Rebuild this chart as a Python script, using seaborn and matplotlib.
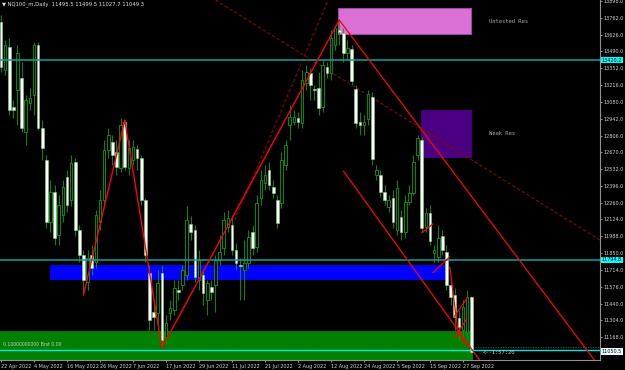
import numpy as np
import pandas as pd
import matplotlib
matplotlib.use("Agg")
import matplotlib.pyplot as plt
from matplotlib.patches import Rectangle
import seaborn as sns

# ---------------- data ----------------
opens = [13729,13339,13526,13038,13176,13274,12835,13071,13136,13542,12867,12607,12103,12347,11998,12160,12469,12282,12591,12038,
         11835,11615,11835,11778,12103,12282,12688,12754,12672,12542,12916,12542,12607,12697,12624,12282,11689,11371,11363,11689,
         11168,11363,11388,11550,11591,11672,12087,12038,11632,11672,11469,11575,11591,11794,11892,12062,12079,11876,11754,11713,
         11770,12022,11900,12298,12420,12526,12388,12282,12258,12567,12892,12916,12949,12908,13233,13315,13184,13193,13038,13363,
         13315,13542,13664,13640,13477,13510,13184,12916,12892,12941,13119,12485,12485,12347,12225,12298,12038,12144,12022,12266,
         12339,12648,12770,12062,12176,11851,11819,11989,11859,11591,11510,11323,11225,11209,11495.5]
highs = [13786,13583,13599,13095,13542,13404,13136,13193,13567,13567,12932,12648,12445,12404,12323,12445,12526,12648,12624,12079,
         11876,11876,11916,12201,12363,12770,12867,12810,12770,12949,12932,12770,12770,12729,12648,12298,11754,11469,11713,11754,
         11347,11469,11632,11632,11754,12233,12152,12079,11876,11713,11632,11632,11835,11998,12184,12201,12160,11932,11810,11957,
         12038,12079,12323,12526,12567,12591,12445,12323,12672,12770,13054,13014,12997,13339,13380,13355,13217,13323,13420,13404,
         13664,13705,13745,13680,13583,13542,13217,12997,12973,13176,13160,12567,12526,12404,12323,12363,12445,12201,12323,12404,
         12648,12810,12794,12217,12241,11916,12079,12038,11916,11632,11567,11388,11469,11550,11499.5]
lows = [13323,13298,12973,12949,12892,12835,12729,13014,12973,12851,12607,12054,12022,11916,11916,12103,12184,12233,11989,11778,
        11510,11550,11672,11729,12038,12241,12624,12567,12485,12510,12526,12485,12567,12526,12241,11778,11225,11225,11266,11079,
        11103,11306,11347,11469,11550,11632,11957,11615,11550,11428,11347,11469,11371,11754,11835,12022,11835,11713,11469,11469,
        11729,11835,11859,12241,12363,12363,12298,12054,12217,12526,12770,12892,12867,12867,13176,13095,13095,12973,12997,13274,
        13258,13502,13542,13404,13420,13217,12867,12810,12810,12892,12567,12445,12306,12241,12184,12054,11998,11957,11973,12241,
        12323,12607,12022,12022,11916,11778,11778,11835,11550,11428,11225,11144,11160,11144,11027.7]
closes = [13363,13542,13014,13014,13477,12867,13095,13111,13542,12867,12705,12103,12347,11973,12241,12388,12241,12583,12038,11835,
          11632,11810,11729,12160,12282,12688,12810,12648,12550,12892,12550,12705,12713,12624,12282,11835,11306,11331,11607,11144,
          11282,11404,11567,11534,11713,12119,12022,11656,11794,11526,11607,11534,11794,11859,12119,12136,11876,11770,11746,11770,
          11981,11892,12258,12445,12485,12404,12339,12095,12607,12729,12957,12957,12916,13258,13323,13217,13176,13030,13380,13315,
          13599,13680,13648,13477,13518,13249,12908,12892,12916,13144,12615,12526,12347,12282,12282,12103,12380,12022,12266,12339,
          12591,12786,12054,12176,11949,11876,11973,11876,11591,11493,11331,11250,11412,11493,11049.3]

date_labels = ["22 Apr 2022","4 May 2022","16 May 2022","26 May 2022","7 Jun 2022","17 Jun 2022","29 Jun 2022",
               "11 Jul 2022","21 Jul 2022","2 Aug 2022","12 Aug 2022","24 Aug 2022","5 Sep 2022","15 Sep 2022","27 Sep 2022"]
date_label_bars = [0, 8, 16, 24, 32, 40, 48, 56, 64, 72, 80, 88, 96, 104, 112]

price_ticks = [13898.0,13762.0,13626.0,13490.0,13352.0,13216.0,13080.0,12942.0,12806.0,12670.0,12532.0,12396.0,
               12260.0,12124.0,11988.0,11850.0,11714.0,11576.0,11440.0,11304.0,11168.0]

# zigzag pivots (bar, price)
zz_bars = [20, 30, 39, 82]
zz_prices = [11510, 12932, 11079, 13745]

# channel / trend lines (bar1, price1, bar2, price2)
red_lines = [(82, 13745, 146, 10884),
             (83, 12518, 116, 10981),
             (102, 12014, 104.7, 12087),
             (104.7, 11691, 108.8, 11821),
             (108.8, 11737, 110.8, 11209),
             (109.8, 11331, 113, 11485),
             (110, 11160, 113, 11323),
             (110.8, 11209, 112.7, 11103)]
dash_lines = [(52, 13908, 146, 11940),
              (56.7, 12119, 79.3, 13908)]

# zones (bar start, bar end, top price, bottom price, colour, label)
zones = [(81.8, 113.9, 13840, 13629, "#da70d6", "Untested Res"),
         (101.8, 113.9, 13014, 12632, "#4b0082", "Weak Res"),
         (11.9, 108.1, 11754, 11640, "#0000ff", ""),
         (-5, 114.1, 11217, 10900, "#008000", "")]

levels = [13420.2, 11794.8]
bid = 11050.5
zone_note = "0.10000000000 Brst 0.00"

# ---------------- drawing ----------------
sns.set_theme(style="dark", rc={"axes.facecolor": "black", "figure.facecolor": "black",
                                "axes.edgecolor": "#808080", "axes.grid": False})
plt.rcParams["font.family"] = ["DejaVu Sans"]

fig = plt.figure(figsize=(6.25, 3.7), dpi=100)
ax = fig.add_axes([0, 10/370, 600/625, 360/370])
ax.set_facecolor("black")

n = len(opens)
idx = np.arange(n)
o = np.array(opens); h = np.array(highs); l = np.array(lows); c = np.array(closes)

# zones behind
for x0, x1, top, bot, col, lab in zones:
    ax.add_patch(Rectangle((x0, bot), x1 - x0, top - bot, facecolor=col,
                           edgecolor=col, lw=0.6, zorder=0.5))
    if lab:
        ax.text(118.3, (top + bot) / 2, lab, color="#a8a8a8", fontsize=4.0,
                family="DejaVu Sans Mono", va="center", ha="left", zorder=5)
ax.add_patch(Rectangle((81.8, 13629), 113.9 - 81.8, 13840 - 13629, fill=False,
                       edgecolor="#9a4a9a", lw=0.7, zorder=0.6))

# dotted line in green zone + note
ax.axhline(11087, color="#2f6f2f", lw=0.6, ls=(0, (1.5, 1.5)), zorder=0.7)
ax.text(0.5, 11110, zone_note, color="#b8d8b8", fontsize=3.3, va="center", ha="left", zorder=5)

# candles
green = "#08a008"
ax.vlines(idx, l, h, color=green, lw=0.6, zorder=2)
bull = c >= o
body_lo = np.minimum(o, c)
body_h = np.maximum(np.abs(c - o), 8)
ax.bar(idx[bull], body_h[bull], bottom=body_lo[bull], width=0.62, color="black",
       edgecolor=green, lw=0.6, zorder=3)
ax.bar(idx[~bull], body_h[~bull], bottom=body_lo[~bull], width=0.62, color="white",
       edgecolor="#7fcf7f", lw=0.4, zorder=3)

# horizontal levels
for lv in levels:
    ax.axhline(lv, color="#14a0a0", lw=1.1, zorder=4)
ax.axhline(11060, color="#00e8e8", lw=1.0, zorder=4)

# red lines
zz = pd.DataFrame({"bar": zz_bars, "price": zz_prices})
sns.lineplot(data=zz, x="bar", y="price", sort=False, estimator=None,
             color="red", lw=1.0, ax=ax, zorder=6)
for b1, p1, b2, p2 in red_lines:
    ax.plot([b1, b2], [p1, p2], color="red", lw=0.9, zorder=6)
for b1, p1, b2, p2 in dash_lines:
    ax.plot([b1, b2], [p1, p2], color="#8b0000", lw=0.8, ls=(0, (3, 2)), zorder=1)

# limits
ax.set_xlim(-1/4.125, 599/4.125)
ax.set_ylim(13908 - 360*8.13, 13908)
ax.set_xlabel(""); ax.set_ylabel("")

# axes/ticks
for s in ["top", "left"]:
    ax.spines[s].set_visible(False)
ax.spines["right"].set_color("#909090"); ax.spines["right"].set_linewidth(0.8)
ax.spines["bottom"].set_color("#909090"); ax.spines["bottom"].set_linewidth(0.8)
ax.yaxis.tick_right()
ax.set_yticks(price_ticks)
ax.set_yticklabels([f"{v:.1f}" for v in price_ticks])
ax.tick_params(axis="y", colors="#d0d0d0", labelsize=3.5, length=1.5, width=0.5, pad=1.0,
               right=True, left=False)
ax.set_xticks(date_label_bars)
ax.set_xticklabels(date_labels)
ax.tick_params(axis="x", colors="#d0d0d0", labelsize=3.5, length=1.5, width=0.5, pad=1.5,
               bottom=True)
for t in ax.get_xticklabels():
    t.set_ha("left")

# highlighted price labels
for lv in levels:
    ax.text(1.003, lv, f"{lv:.1f}", transform=ax.get_yaxis_transform(), fontsize=3.5,
            color="black", va="center", ha="left",
            bbox=dict(boxstyle="square,pad=0.15", fc="#00ffff", ec="none"), zorder=10, clip_on=False)
ax.text(1.003, bid, f"{bid:.1f}", transform=ax.get_yaxis_transform(), fontsize=3.5,
        color="black", va="center", ha="left",
        bbox=dict(boxstyle="square,pad=0.15", fc="#e8ffff", ec="none"), zorder=10, clip_on=False)

# texts
fig.text(2/625, 1 - 4/370, "\u25bc NQ100_m,Daily  11495.5 11499.5 11027.7 11049.3",
         color="#e0e0e0", fontsize=3.8, va="center", ha="left")
ax.text(116.8, 11040, "<--1:57:20", color="#c8c8c8", fontsize=4.0,
        family="DejaVu Sans Mono", va="center", ha="left", zorder=10)

fig.savefig("out.png", dpi=100, facecolor="black")
